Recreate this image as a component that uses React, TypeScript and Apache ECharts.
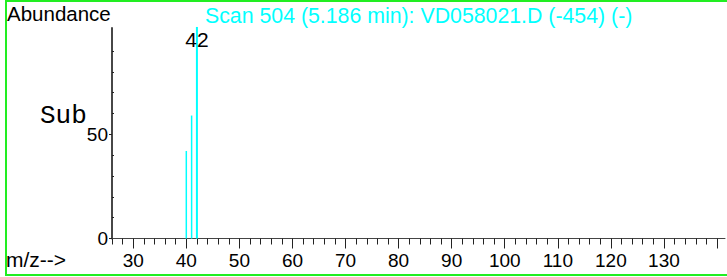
import React, { useEffect, useRef } from "react";
import * as echarts from "echarts";

const mzValues = [40, 41, 42];
const abundances = [42, 59, 101.5];
const labeledPeaks = [42];
const xMajorTicks = [30, 40, 50, 60, 70, 80, 90, 100, 110, 120, 130, 140];
const xTickLabels = [30, 40, 50, 60, 70, 80, 90, 100, 110, 120, 130];
const xMinorTicks = [26, 28, 32, 34, 36, 38, 42, 44, 46, 48, 52, 54, 56, 58, 62, 64, 66, 68, 72, 74, 76, 78, 82, 84, 86, 88, 92, 94, 96, 98, 102, 104, 106, 108, 112, 114, 116, 118, 122, 124, 126, 128, 132, 134, 136, 138];
const yTickLabels = [0, 50];
const yMinorTicks = [10, 20, 30, 40, 60, 70, 80, 90];
const titleText = "Scan 504 (5.186 min): VD058021.D (-454) (-)";

const CYAN = "#00ffff";
const SANS = "Liberation Sans, Arial, sans-serif";

export default function App() {
  const ref = useRef<HTMLDivElement>(null);
  useEffect(() => {
    if (!ref.current) return;
    const chart = echarts.init(ref.current, undefined, { renderer: "svg" });
    const data = mzValues.map((m, i) => [m, abundances[i]]);
    chart.setOption({
      animation: false,
      grid: { left: 112, right: 2, top: 28, bottom: 38.5 },
      xAxis: [
        {
          type: "value",
          position: "bottom",
          min: 26,
          max: 141.5,
          axisLine: { show: true, lineStyle: { color: "#444", width: 1 } },
          axisTick: { show: true, customValues: xMajorTicks, length: 10, lineStyle: { color: "#222", width: 1 } },
          axisLabel: { show: true, customValues: xTickLabels, fontSize: 19, color: "#000", fontFamily: SANS, margin: 12 },
          splitLine: { show: false },
        },
        {
          type: "value",
          position: "bottom",
          min: 26,
          max: 141.5,
          axisLine: { show: false },
          axisTick: { show: true, customValues: xMinorTicks, length: 6, lineStyle: { color: "#222", width: 1 } },
          axisLabel: { show: false },
          splitLine: { show: false },
        },
      ],
      yAxis: [
        {
          type: "value",
          position: "left",
          min: 0,
          max: 101,
          axisLine: { show: true, lineStyle: { color: "#333", width: 1.8 } },
          axisTick: { show: true, customValues: yTickLabels, length: 3, lineStyle: { color: "#222", width: 1 } },
          axisLabel: { show: true, customValues: yTickLabels, fontSize: 19, color: "#000", fontFamily: SANS, margin: 4 },
          splitLine: { show: false },
        },
        {
          type: "value",
          position: "left",
          min: 0,
          max: 101,
          axisLine: { show: false },
          axisTick: { show: true, inside: true, customValues: yMinorTicks, length: 2, lineStyle: { color: "#222", width: 1 } },
          axisLabel: { show: false },
          splitLine: { show: false },
        },
      ],
      series: [
        {
          type: "custom",
          xAxisIndex: 0,
          yAxisIndex: 0,
          data,
          clip: false,
          renderItem: (params: any, api: any) => {
            const mz = api.value(0);
            const v = api.value(1);
            const top = api.coord([mz, v]);
            const base = api.coord([mz, 0]);
            const children: any[] = [
              {
                type: "line",
                shape: { x1: top[0], y1: top[1], x2: base[0], y2: base[1] },
                style: { stroke: CYAN, lineWidth: mz === 42 ? 2 : 1.5 },
              },
            ];
            if (labeledPeaks.indexOf(mz) >= 0) {
              children.push({
                type: "text",
                x: top[0],
                y: top[1] + 12.5,
                style: {
                  text: String(mz),
                  fill: "#000",
                  fontSize: 21,
                  fontFamily: SANS,
                  align: "center",
                  verticalAlign: "middle",
                },
              });
            }
            return { type: "group", children };
          },
        },
      ],
      graphic: [
        {
          type: "rect",
          shape: { x: 6, y: 1, width: 740, height: 274 },
          style: { fill: "none", stroke: "#22ee22", lineWidth: 2 },
          silent: true,
        },
        {
          type: "text",
          x: 7,
          y: 13,
          style: { text: "Abundance", fill: "#000", fontSize: 20.5, fontFamily: SANS, align: "left", verticalAlign: "middle" },
        },
        {
          type: "text",
          x: 205,
          y: 15.5,
          style: { text: titleText, fill: CYAN, fontSize: 21.3, fontFamily: SANS, align: "left", verticalAlign: "middle" },
        },
        {
          type: "text",
          x: 40,
          y: 116,
          style: { text: "Sub", fill: "#000", fontSize: 26, fontFamily: "Liberation Mono, Courier New, monospace", align: "left", verticalAlign: "middle" },
        },
        {
          type: "text",
          x: 6,
          y: 259,
          style: { text: "m/z-->", fill: "#000", fontSize: 21, fontFamily: SANS, align: "left", verticalAlign: "middle" },
        },
      ],
    });
    return () => chart.dispose();
  }, []);
  return (
    <div
      ref={ref}
      style={{ position: "absolute", left: 0, top: 0, width: 727, height: 277, background: "#fff" }}
    />
  );
}
